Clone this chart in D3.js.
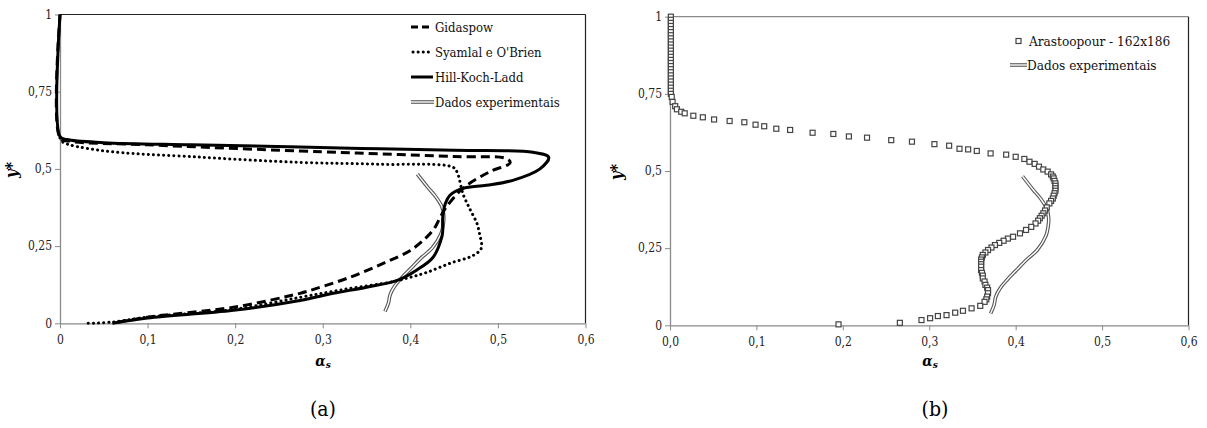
<!DOCTYPE html>
<html>
<head>
<meta charset="utf-8">
<script src="https://cdn.jsdelivr.net/npm/d3@7"></script>
<style>
  body { margin: 0; background: #fff; }
</style>
</head>
<body>
<svg id="chart" width="1207" height="428"></svg>
<script>
// values (x = alpha_s, y = y*)
var gidaspow = [[0,1],[0,0.6],[0.01,0.59],[0.1,0.578],[0.274,0.558],[0.365,0.549],[0.45,0.54],[0.51,0.533],[0.514,0.52],[0.49,0.49],[0.46,0.437],[0.441,0.376],[0.434,0.343],[0.428,0.31],[0.419,0.28],[0.40,0.236],[0.369,0.194],[0.331,0.149],[0.293,0.113],[0.274,0.097],[0.198,0.052],[0.1,0.02],[0.06,0]];
var syamlal = [[0,0.6],[0.003,0.587],[0.046,0.56],[0.16,0.538],[0.274,0.521],[0.365,0.515],[0.449,0.505],[0.454,0.485],[0.46,0.42],[0.468,0.37],[0.476,0.324],[0.479,0.29],[0.481,0.243],[0.472,0.22],[0.445,0.194],[0.419,0.165],[0.40,0.149],[0.377,0.133],[0.331,0.113],[0.274,0.084],[0.198,0.045],[0.1,0.02],[0.06,0.004],[0.032,0]];
var hillKochLadd = [[0,1],[0,0.605],[0.008,0.595],[0.05,0.585],[0.15,0.578],[0.274,0.571],[0.365,0.565],[0.45,0.56],[0.54,0.554],[0.558,0.538],[0.548,0.50],[0.517,0.463],[0.487,0.447],[0.46,0.437],[0.445,0.414],[0.44,0.388],[0.437,0.343],[0.437,0.30],[0.436,0.28],[0.426,0.214],[0.407,0.172],[0.385,0.139],[0.35,0.117],[0.312,0.097],[0.274,0.074],[0.198,0.042],[0.1,0.017],[0.06,0]];
var dadosExp = [[0.408,0.483],[0.42,0.44],[0.429,0.41],[0.436,0.378],[0.438,0.352],[0.438,0.33],[0.435,0.29],[0.425,0.244],[0.412,0.211],[0.401,0.179],[0.39,0.147],[0.382,0.12],[0.377,0.093],[0.375,0.066],[0.371,0.038]];
var arastoopour = [[0.001,1],[0.001,0.99],[0.001,0.98],[0.001,0.97],[0.001,0.96],[0.001,0.95],[0.001,0.94],[0.001,0.93],[0.001,0.92],[0.001,0.91],[0.001,0.9],[0.001,0.89],[0.001,0.88],[0.001,0.87],[0.001,0.86],[0.001,0.85],[0.001,0.84],[0.001,0.83],[0.001,0.82],[0.001,0.81],[0.001,0.8],[0.001,0.79],[0.001,0.78],[0.001,0.77],[0.001,0.76],[0.001,0.75],
  [0.002,0.74],[0.003,0.724],[0.006,0.71],[0.008,0.70],[0.013,0.692],[0.017,0.687],[0.027,0.679],[0.038,0.674],[0.051,0.667],[0.069,0.662],[0.086,0.658],[0.099,0.65],[0.109,0.645],[0.123,0.637],[0.139,0.633],[0.165,0.624],[0.189,0.62],[0.207,0.612],[0.228,0.608],[0.256,0.60],[0.28,0.595],[0.306,0.587],[0.323,0.582],[0.335,0.572],[0.345,0.57],[0.355,0.565],[0.371,0.557],[0.389,0.553],[0.40,0.546],[0.41,0.539],
  [0.416,0.53],[0.422,0.523],[0.427,0.514],[0.432,0.505],[0.437,0.498],[0.441,0.489],[0.443,0.482],[0.444,0.476],[0.445,0.468],[0.446,0.46],[0.446,0.452],[0.446,0.444],[0.446,0.436],[0.445,0.428],[0.444,0.42],[0.443,0.411],[0.441,0.403],[0.439,0.395],[0.436,0.382],[0.434,0.372],[0.432,0.363],[0.43,0.355],[0.428,0.347],[0.426,0.339],[0.423,0.33],[0.418,0.319],[0.412,0.309],[0.405,0.298],[0.397,0.287],[0.391,0.281],[0.386,0.274],[0.381,0.267],[0.376,0.26],[0.372,0.252],[0.368,0.244],[0.365,0.236],[0.362,0.228],[0.361,0.22],[0.36,0.213],[0.36,0.206],[0.36,0.198],[0.36,0.19],[0.36,0.179],[0.361,0.17],[0.362,0.161],[0.362,0.152],[0.364,0.142],[0.365,0.131],[0.367,0.122],[0.368,0.114],[0.368,0.104],[0.367,0.093],[0.366,0.084],[0.364,0.076],[0.359,0.063],[0.349,0.055],[0.339,0.047],[0.33,0.041],[0.32,0.033],[0.31,0.03],[0.301,0.023],[0.291,0.017],[0.266,0.008],[0.195,0.003]];

var yTicks = [0, 0.25, 0.5, 0.75, 1];
var yTickLabels = ["0", "0,25", "0,5", "0,75", "1"];
var xTicks = [0, 0.1, 0.2, 0.3, 0.4, 0.5, 0.6];
var xTickLabelsA = ["0", "0,1", "0,2", "0,3", "0,4", "0,5", "0,6"];
var xTickLabelsB = ["0,0", "0,1", "0,2", "0,3", "0,4", "0,5", "0,6"];

var FONT = "'DejaVu Serif Condensed', 'DejaVu Serif', serif";
var svg = d3.select("#chart");

function panel(left, right, top, bottom, xLabels, topColor) {
  var x = d3.scaleLinear().domain([0, 0.6]).range([left, right]);
  var y = d3.scaleLinear().domain([0, 1]).range([bottom, top]);
  var g = svg.append("g");

  // plot frame (top + right)
  g.append("line").attr("x1", left).attr("x2", right).attr("y1", top).attr("y2", top)
    .attr("stroke", topColor).attr("stroke-width", 1.2);
  g.append("line").attr("x1", right).attr("x2", right).attr("y1", top).attr("y2", bottom)
    .attr("stroke", "#222").attr("stroke-width", 1.2);

  var ax = g.append("g").attr("transform", "translate(0," + bottom + ")")
    .call(d3.axisBottom(x).tickValues(xTicks).tickSize(5).tickSizeOuter(0)
      .tickFormat(function(d, i) { return xLabels[i]; }));
  var ay = g.append("g").attr("transform", "translate(" + left + ",0)")
    .call(d3.axisLeft(y).tickValues(yTicks).tickSize(5).tickSizeOuter(0)
      .tickFormat(function(d, i) { return yTickLabels[i]; }));
  [ax, ay].forEach(function(a) {
    a.attr("font-family", FONT).attr("font-size", 12);
    a.select(".domain").attr("stroke", "#8a8a8a").attr("stroke-width", 1.3);
    a.selectAll(".tick line").attr("stroke", "#8a8a8a");
    a.selectAll("text").attr("fill", "#222");
  });
  ax.selectAll("text").attr("dy", "1.05em");
  ay.selectAll("text").attr("x", -8);

  return {x: x, y: y, g: g};
}

function drawLine(p, data, w, dash, color) {
  var line = d3.line().x(function(d) { return p.x(d[0]); }).y(function(d) { return p.y(d[1]); })
    .curve(d3.curveCatmullRom.alpha(0.5));
  return p.g.append("path").datum(data).attr("d", line).attr("fill", "none")
    .attr("stroke", color || "#000").attr("stroke-width", w)
    .attr("stroke-dasharray", dash || null)
    .attr("stroke-linecap", dash === "0.1 5" ? "round" : "butt")
    .attr("stroke-linejoin", "round");
}

function drawExp(p, data) {
  drawLine(p, data, 3.6, null, "#555");
  drawLine(p, data, 1.4, null, "#fff");
}

function axisTitles(cx, yx, cy) {
  svg.append("text").attr("transform", "translate(" + yx + "," + cy + ") rotate(-90)")
    .attr("text-anchor", "middle").attr("font-size", 16).attr("font-weight", "bold")
    .attr("font-style", "italic").attr("font-family", FONT).text("y*");
  var t = svg.append("text").attr("x", cx).attr("y", 366).attr("text-anchor", "middle")
    .attr("font-size", 15).attr("font-weight", "bold").attr("font-style", "italic").attr("font-family", FONT);
  t.append("tspan").text("α");
  t.append("tspan").attr("font-size", 10).attr("dy", 2).text("s");
}

// (a)
var pa = panel(60, 585.5, 14.5, 323.3, xTickLabelsA, "#222");
drawExp(pa, dadosExp);
drawLine(pa, syamlal, 3, "0.1 5");
drawLine(pa, gidaspow, 3, "9 5");
drawLine(pa, hillKochLadd, 3);
axisTitles(323, 17, 170);

// legend (a)
var legA = [
  {name: "Gidaspow", dash: "7 4"},
  {name: "Syamlal e O'Brien", dash: "0.1 5"},
  {name: "Hill-Koch-Ladd", dash: null},
  {name: "Dados experimentais", exp: true}
];
legA.forEach(function(d, i) {
  var yy = 27 + i * 25;
  if (d.exp) {
    svg.append("line").attr("x1", 411).attr("x2", 434).attr("y1", yy).attr("y2", yy).attr("stroke", "#555").attr("stroke-width", 3.6);
    svg.append("line").attr("x1", 411).attr("x2", 434).attr("y1", yy).attr("y2", yy).attr("stroke", "#fff").attr("stroke-width", 1.4);
  } else {
    svg.append("line").attr("x1", d.dash === "0.1 5" ? 413 : 411).attr("x2", 433).attr("y1", yy).attr("y2", yy)
      .attr("stroke", "#000").attr("stroke-width", 3).attr("stroke-dasharray", d.dash)
      .attr("stroke-linecap", d.dash === "0.1 5" ? "round" : "butt");
  }
  svg.append("text").attr("x", 435).attr("y", yy + 5).attr("font-size", 13).attr("fill", "#111")
    .attr("font-family", FONT).text(d.name);
});

// (b)
var pb = panel(670, 1188.5, 16.7, 325.3, xTickLabelsB, "#8a8a8a");
drawExp(pb, dadosExp);
pb.g.selectAll(".sq").data(arastoopour).enter().append("rect").attr("class", "sq")
  .attr("x", function(d) { return pb.x(d[0]) - 2.5; })
  .attr("y", function(d) { return pb.y(d[1]) - 2.5; })
  .attr("width", 5).attr("height", 5)
  .attr("fill", "#fff").attr("stroke", "#444").attr("stroke-width", 1.2);
axisTitles(930, 622, 172);

// legend (b)
svg.append("rect").attr("x", 1016).attr("y", 38.5).attr("width", 5).attr("height", 5)
  .attr("fill", "#fff").attr("stroke", "#444").attr("stroke-width", 1.2);
svg.append("text").attr("x", 1029).attr("y", 46).attr("font-size", 13.5).attr("fill", "#111")
  .attr("font-family", FONT).text("Arastoopour - 162x186");
svg.append("line").attr("x1", 1010).attr("x2", 1027).attr("y1", 65).attr("y2", 65).attr("stroke", "#555").attr("stroke-width", 3.6);
svg.append("line").attr("x1", 1010).attr("x2", 1027).attr("y1", 65).attr("y2", 65).attr("stroke", "#fff").attr("stroke-width", 1.4);
svg.append("text").attr("x", 1027).attr("y", 70).attr("font-size", 13.5).attr("fill", "#111")
  .attr("font-family", FONT).text("Dados experimentais");

// panel captions
svg.append("text").attr("x", 323).attr("y", 416).attr("text-anchor", "middle").attr("font-size", 21)
  .attr("font-family", FONT).text("(a)");
svg.append("text").attr("x", 935).attr("y", 416).attr("text-anchor", "middle").attr("font-size", 21)
  .attr("font-family", FONT).text("(b)");
</script>
</body>
</html>
